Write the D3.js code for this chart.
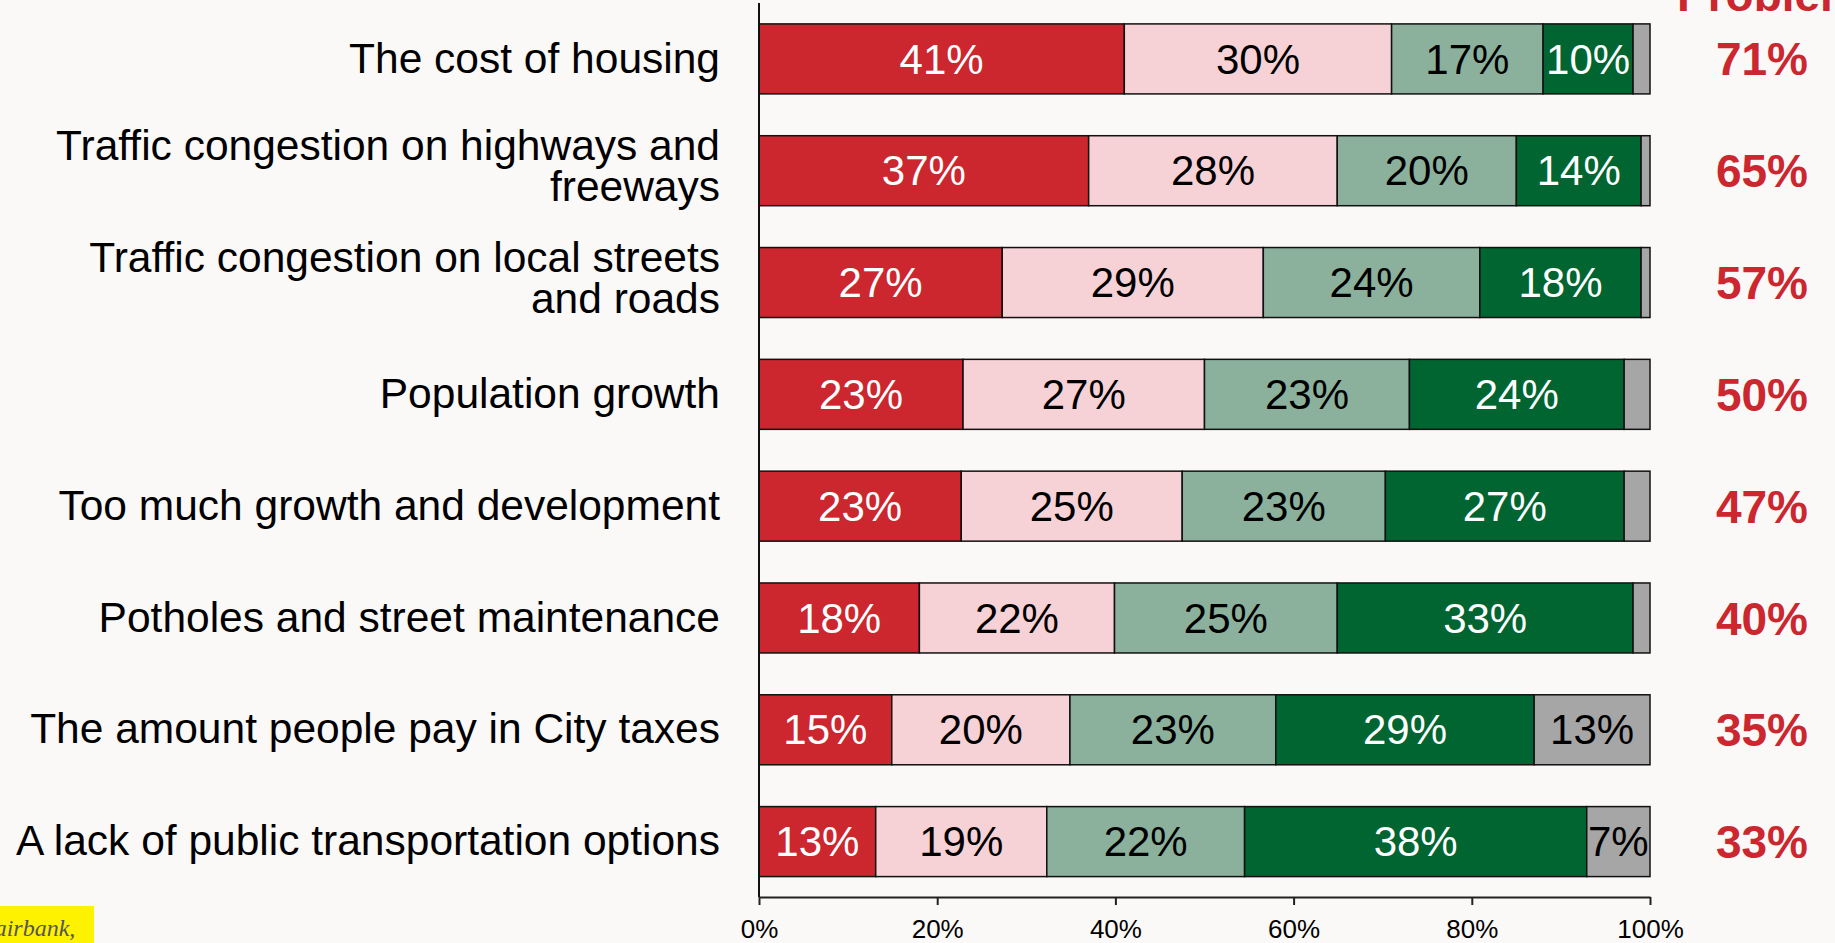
<!DOCTYPE html>
<html>
<head>
    <title>Problems facing the City</title>
    <script src="https://d3js.org/d3.v7.min.js"></script>
    <style>
        body {
            margin: 0;
            background: #faf9f7;
            font-family: "Liberation Sans", Arial, sans-serif;
        }
        .cat-label {
            font-size: 42.5px;
            fill: #000;
        }
        .seg-label {
            font-size: 42px;
        }
        .net-label {
            font-size: 46px;
            font-weight: bold;
            fill: #cc262f;
        }
        .x-axis text {
            font-size: 26px;
            fill: #000;
            font-family: "Liberation Sans", Arial, sans-serif;
        }
        .x-axis path, .x-axis line {
            stroke: #222;
            stroke-width: 2;
        }
    </style>
</head>
<body>
    <div id="chart"></div>

    <script>

        const categories = [
            "The cost of housing",
            "Traffic congestion on highways and\nfreeways",
            "Traffic congestion on local streets\nand roads",
            "Population growth",
            "Too much growth and development",
            "Potholes and street maintenance",
            "The amount people pay in City taxes",
            "A lack of public transportation options"
        ];

        const verySerious     = [41, 37, 27.3, 22.9, 22.7, 18, 14.9, 13.1];
        const somewhatSerious = [30, 27.9, 29.3, 27.1, 24.8, 21.9, 20, 19.2];
        const notTooSerious   = [17, 20.1, 24.3, 23.0, 22.8, 25, 23.1, 22.2];
        const notAProblem     = [10.1, 14, 18.1, 24.1, 26.8, 33.2, 29, 38.4];
        const dontKnow        = [1.9, 1, 1, 2.9, 2.9, 1.9, 13, 7.1];

        const totalProblem = [71, 65, 57, 50, 47, 40, 35, 33];

        const xTicks = [0, 20, 40, 60, 80, 100];

        const seriesKeys = ["verySerious", "somewhatSerious", "notTooSerious", "notAProblem", "dontKnow"];
        const seriesColors = ["#cc262f", "#f6d2d6", "#8bb09c", "#006530", "#a6a6a6"];
        const textColors = ["#fff", "#000", "#000", "#fff", "#000"];

        const rows = categories.map((c, i) => ({
            category: c,
            verySerious: verySerious[i],
            somewhatSerious: somewhatSerious[i],
            notTooSerious: notTooSerious[i],
            notAProblem: notAProblem[i],
            dontKnow: dontKnow[i],
            total: totalProblem[i]
        }));

        const width = 1835;
        const height = 943;

        const svg = d3.select("#chart")
            .append("svg")
            .attr("width", width)
            .attr("height", height);

        const xScale = d3.scaleLinear()
            .domain([0, 100])
            .range([759, 1650]);

        const yScale = d3.scaleBand()
            .domain(categories)
            .range([3, 897.5])
            .paddingInner(0.374)
            .paddingOuter(0.187);

        const stacked = d3.stack().keys(seriesKeys)(rows);

        // bars
        const layers = svg.selectAll(".layer")
            .data(stacked)
            .enter()
            .append("g")
            .attr("class", "layer")
            .attr("fill", (d, i) => seriesColors[i]);

        layers.selectAll("rect")
            .data(d => d)
            .enter()
            .append("rect")
            .attr("x", d => xScale(d[0]))
            .attr("y", d => yScale(d.data.category))
            .attr("width", d => xScale(d[1]) - xScale(d[0]))
            .attr("height", yScale.bandwidth())
            .attr("stroke", "#111")
            .attr("stroke-width", 1.5);

        // segment labels
        stacked.forEach((layer, i) => {
            svg.selectAll(".seg-" + i)
                .data(layer.filter(d => d[1] - d[0] >= 5))
                .enter()
                .append("text")
                .attr("class", "seg-label")
                .attr("x", d => xScale((d[0] + d[1]) / 2))
                .attr("y", d => yScale(d.data.category) + yScale.bandwidth() / 2)
                .attr("dy", "0.35em")
                .attr("text-anchor", "middle")
                .attr("fill", textColors[i])
                .text(d => Math.round(d[1] - d[0]) + "%");
        });

        // category labels, wrapped where the original breaks them
        const catText = svg.selectAll(".cat-label")
            .data(categories)
            .enter()
            .append("text")
            .attr("class", "cat-label")
            .attr("text-anchor", "end")
            .attr("x", 720)
            .attr("y", d => yScale(d) + yScale.bandwidth() / 2);

        catText.each(function(d) {
            const lines = d.split("\n");
            const t = d3.select(this);
            lines.forEach((line, j) => {
                t.append("tspan")
                    .attr("x", 720)
                    .attr("dy", j === 0 ? (lines.length > 1 ? "-0.25em" : "0.32em") : "0.96em")
                    .text(line);
            });
        });

        // net problem values
        svg.selectAll(".net-label")
            .data(rows)
            .enter()
            .append("text")
            .attr("class", "net-label")
            .attr("x", 1762)
            .attr("y", d => yScale(d.category) + yScale.bandwidth() / 2)
            .attr("dy", "0.36em")
            .attr("text-anchor", "middle")
            .text(d => d.total + "%");

        svg.append("text")
            .attr("class", "net-label")
            .attr("x", 1769)
            .attr("y", 11)
            .attr("text-anchor", "middle")
            .text("Problem");

        // axes
        svg.append("line")
            .attr("x1", xScale(0))
            .attr("x2", xScale(0))
            .attr("y1", 3)
            .attr("y2", 897)
            .style("stroke", "#111")
            .style("stroke-width", 2);

        svg.append("g")
            .attr("class", "x-axis")
            .attr("transform", "translate(0,897)")
            .call(d3.axisBottom(xScale)
                .tickValues(xTicks)
                .tickFormat(d => d + "%")
                .tickSize(8)
                .tickSizeOuter(0)
                .tickPadding(15));

        // source note (cut off at the page edge)
        svg.append("rect")
            .attr("x", 0)
            .attr("y", 906)
            .attr("width", 94)
            .attr("height", 40)
            .attr("fill", "#fff200");

        svg.append("text")
            .attr("x", -20)
            .attr("y", 936)
            .attr("font-family", "'Liberation Serif', 'Times New Roman', serif")
            .attr("font-style", "italic")
            .attr("font-size", 24)
            .attr("fill", "#555")
            .text("Fairbank,");

    </script>
</body>
</html>
